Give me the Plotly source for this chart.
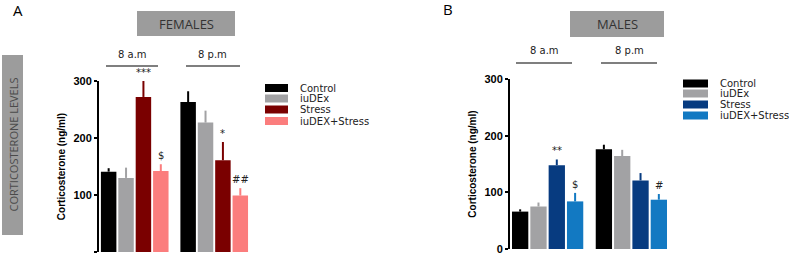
import plotly.graph_objects as go

W, H = 789, 257

times = ["8 a.m", "8 p.m"]
groups = ["Control", "iuDEx", "Stress", "iuDEX+Stress"]

fem_mean = {"Control": [141, 263], "iuDEx": [130, 227], "Stress": [272, 161], "iuDEX+Stress": [142, 99]}
fem_err = {"Control": [6, 19], "iuDEx": [18, 21], "Stress": [28, 32], "iuDEX+Stress": [12, 13]}
mal_mean = {"Control": [66, 176], "iuDEx": [75, 164], "Stress": [148, 121], "iuDEX+Stress": [84, 87]}
mal_err = {"Control": [4, 8], "iuDEx": [7, 11], "Stress": [10, 13], "iuDEX+Stress": [15, 10]}

fem_sig = {"Stress": ["***", "*"], "iuDEX+Stress": ["$", "##"]}
mal_sig = {"Stress": ["**", ""], "iuDEX+Stress": ["$", "#"]}

fem_colors = {"Control": "#000000", "iuDEx": "#a2a2a4", "Stress": "#7a0000", "iuDEX+Stress": "#fb7d7d"}
mal_colors = {"Control": "#000000", "iuDEx": "#a2a2a4", "Stress": "#073b80", "iuDEX+Stress": "#1279c2"}


def px(x):
    return x / W


def py(y):
    return 1 - y / H


fig = go.Figure()

for panel, means, errs, colors, xa, ya in [
    ("F", fem_mean, fem_err, fem_colors, "x", "y"),
    ("M", mal_mean, mal_err, mal_colors, "x2", "y2"),
]:
    for g in groups:
        fig.add_trace(go.Bar(
            x=times, y=means[g], name=g, xaxis=xa, yaxis=ya,
            marker=dict(color=colors[g], line=dict(width=0)),
            error_y=dict(type="data", array=errs[g], arrayminus=[0] * len(times),
                         symmetric=False, color=colors[g], thickness=2, width=0),
            showlegend=False,
            offsetgroup=g,
            hoverinfo="skip",
        ))

BARGAP = 0.125
GROUPGAP = 0.11


def add_sig(means, errs, sigs, xa, ya):
    slot = (1 - BARGAP) / 4
    for gi, g in enumerate(groups):
        if g not in sigs:
            continue
        for ti, t in enumerate(times):
            s = sigs[g][ti]
            if not s:
                continue
            xc = ti - (1 - BARGAP) / 2 + slot * (gi + 0.5)
            fig.add_annotation(x=xc, y=means[g][ti] + errs[g][ti], xref=xa, yref=ya,
                               text=s, showarrow=False, xanchor="center", yanchor="bottom", yshift=1,
                               font=dict(family="DejaVu Sans", size=10, color="#222222"))


add_sig(fem_mean, fem_err, fem_sig, "x", "y")
add_sig(mal_mean, mal_err, mal_sig, "x2", "y2")

yaxis_common = dict(range=[0, 300], tickvals=[0, 100, 200, 300], showline=True, linecolor="#000000",
                    linewidth=2, ticks="outside", ticklen=3, tickwidth=2, tickcolor="#000000",
                    showgrid=False, zeroline=False, automargin=False,
                    tickfont=dict(family="Liberation Sans", size=11, color="#000000", weight="bold"),
                    title=dict(text="Corticosterone (ng/ml)",
                               font=dict(family="Liberation Sans", size=10, color="#000000", weight="bold"),
                               standoff=6))
xaxis_common = dict(showline=False, showticklabels=False, ticks="", showgrid=False, zeroline=False,
                    automargin=False)

fig.update_layout(
    width=W, height=H, autosize=False, margin=dict(l=0, r=0, t=0, b=0, autoexpand=False),
    paper_bgcolor="white", plot_bgcolor="white",
    barmode="group", bargap=BARGAP, bargroupgap=GROUPGAP,
    xaxis=dict(domain=[px(99), px(249)], range=[-0.5 + BARGAP / 2 - 0.012, 1.5 - BARGAP / 2], **xaxis_common),
    yaxis=dict(domain=[py(252), py(81)], anchor="x", **yaxis_common),
    xaxis2=dict(domain=[px(510), px(668)], range=[-0.5 + BARGAP / 2 - 0.012, 1.5 - BARGAP / 2], anchor="y2",
                **xaxis_common),
    yaxis2=dict(domain=[py(249), py(79)], anchor="x2", **yaxis_common),
    showlegend=False,
    hovermode=False,
)

shapes = []
annots = []

# panel letters
annots.append(dict(x=px(18), y=py(10), text="A", font=dict(family="Open Sans", size=15, color="#000000")))
annots.append(dict(x=px(448), y=py(9), text="B", font=dict(family="Open Sans", size=15, color="#000000")))

# header boxes
for x0, x1, y0, y1, label in [(137, 235, 11, 36, "FEMALES"), (570, 664, 11, 37, "MALES")]:
    shapes.append(dict(type="rect", xref="paper", yref="paper", x0=px(x0), x1=px(x1), y0=py(y1), y1=py(y0),
                       fillcolor="#9c9c9c", line=dict(width=0), layer="below"))
    annots.append(dict(x=px((x0 + x1) / 2), y=py((y0 + y1) / 2), text=label,
                       font=dict(family="Open Sans", size=13, color="#333333")))

# side box
shapes.append(dict(type="rect", xref="paper", yref="paper", x0=px(2), x1=px(23), y0=py(235), y1=py(55),
                   fillcolor="#9c9c9c", line=dict(width=0), layer="below"))
annots.append(dict(x=px(12.5), y=py(145), text="CORTICOSTERONE LEVELS", textangle=-90,
                   font=dict(family="Open Sans", size=11, color="#4a4a4a")))

# time labels with lines
for x0, x1, yl, yt, label in [(106, 158, 66, 54, "8 a.m"), (186, 240, 66, 54, "8 p.m"),
                              (516, 572, 63, 51, "8 a.m"), (601, 657, 63, 51, "8 p.m")]:
    shapes.append(dict(type="line", xref="paper", yref="paper", x0=px(x0), x1=px(x1), y0=py(yl), y1=py(yl),
                       line=dict(color="#555555", width=1.5)))
    annots.append(dict(x=px((x0 + x1) / 2), y=py(yt), text=label,
                       font=dict(family="DejaVu Sans", size=10, color="#222222")))

# legends
for sx0, sx1, tx, ys, colors in [(265, 288, 298, [88, 98.5, 109.5, 121], fem_colors),
                                  (683, 708, 718, [83.5, 93.5, 104.5, 115.5], mal_colors)]:
    for g, yc in zip(groups, ys):
        shapes.append(dict(type="rect", xref="paper", yref="paper", x0=px(sx0), x1=px(sx1),
                           y0=py(yc + 4), y1=py(yc - 4), fillcolor=colors[g], line=dict(width=0)))
        annots.append(dict(x=px(tx), y=py(yc), text=g, xanchor="left",
                           font=dict(family="DejaVu Sans", size=10, color="#222222")))

for a in annots:
    a.setdefault("xref", "paper")
    a.setdefault("yref", "paper")
    a.setdefault("xanchor", "center")
    a.setdefault("yanchor", "middle")
    a["showarrow"] = False
    fig.add_annotation(**a)
for s in shapes:
    fig.add_shape(**s)

fig.write_html("out.html",
               config={"responsive": False, "displayModeBar": False, "staticPlot": True},
               post_script="document.body.style.margin='0';document.body.style.overflow='hidden';")
